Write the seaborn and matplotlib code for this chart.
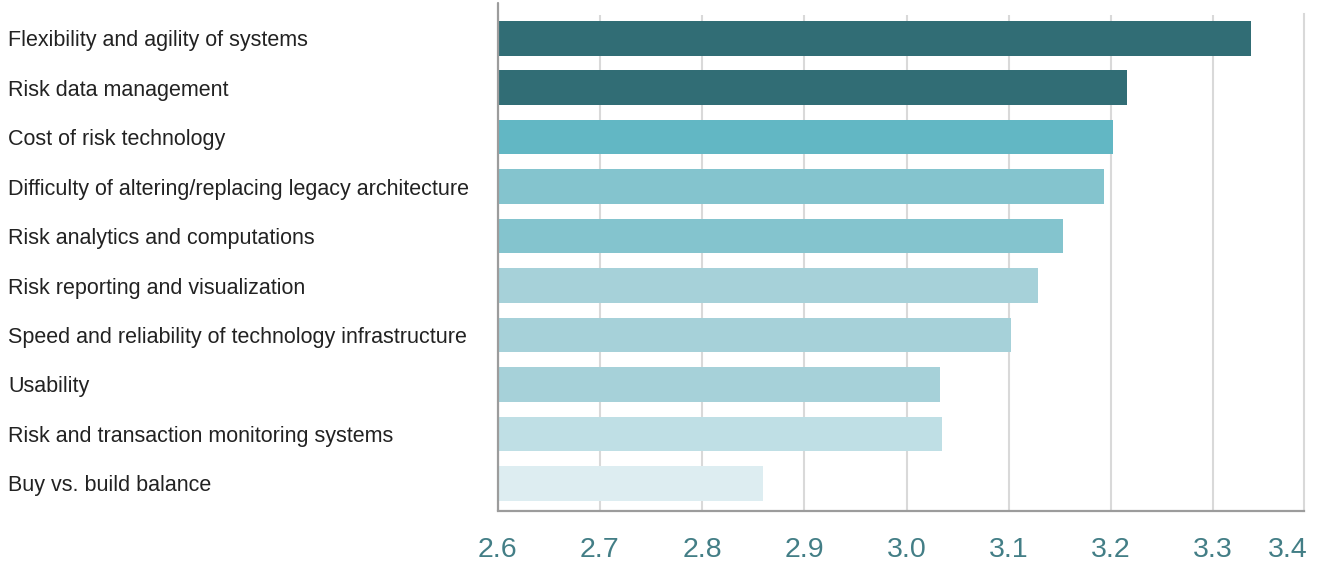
import matplotlib
matplotlib.use("Agg")
import matplotlib.pyplot as plt
import matplotlib.transforms as mtransforms
import seaborn as sns
import pandas as pd

categories = [
    "Flexibility and agility of systems",
    "Risk data management",
    "Cost of risk technology",
    "Difficulty of altering/replacing legacy architecture",
    "Risk analytics and computations",
    "Risk reporting and visualization",
    "Speed and reliability of technology infrastructure",
    "Usability",
    "Risk and transaction monitoring systems",
    "Buy vs. build balance",
]
scores = [3.337, 3.216, 3.202, 3.193, 3.153, 3.129, 3.102, 3.033, 3.035, 2.860]
bar_colors = [
    "#316D75", "#316D75", "#62B7C4", "#84C4CE", "#84C4CE",
    "#A6D1D9", "#A6D1D9", "#A6D1D9", "#BFDFE5", "#DDEDF1",
]
tick_values = [2.6, 2.7, 2.8, 2.9, 3.0, 3.1, 3.2, 3.3]
tick_labels = ["2.6", "2.7", "2.8", "2.9", "3.0", "3.1", "3.2", "3.3"]
end_label = "3.4"

df = pd.DataFrame({"category": categories, "score": scores})

sns.set_theme(style="white")
plt.rcParams["font.family"] = ["Liberation Sans", "DejaVu Sans"]

fig = plt.figure(figsize=(13.2, 5.62), dpi=100)
ax = fig.add_axes([0.377, 0.0907, 0.611, 0.8826])

sns.barplot(
    data=df, x="score", y="category", hue="category",
    palette=bar_colors, orient="h", width=0.70, legend=False,
    saturation=1, linewidth=0, ax=ax, zorder=3,
)

ax.set_xlim(2.6, 3.389)
ax.set_ylim(9.56, -0.47)
ax.set_xlabel("")
ax.set_ylabel("")

# vertical gridlines
ax.set_xticks(tick_values)
ax.set_xticklabels(tick_labels)
ax.xaxis.grid(True, color="#D9D9D9", linewidth=1.5, zorder=0)
ax.yaxis.grid(False)
ax.tick_params(axis="x", length=0, pad=19, labelsize=20.5, labelcolor="#437E86")
ax.tick_params(axis="y", length=0)
ax.set_yticklabels([])

# extra label at the right edge of the axis
end_txt = ax.text(1.004, 0.0, end_label, ha="right", va="top",
                  fontsize=20.5, color="#437E86")
end_txt.set_transform(
    ax.transAxes + mtransforms.ScaledTranslation(0, -19 / 72, fig.dpi_scale_trans))

ax.spines["top"].set_visible(False)
ax.spines["right"].set_color("#D9D9D9")
ax.spines["right"].set_linewidth(1.5)
ax.spines["right"].set_bounds(9.56, -0.49)
ax.spines["bottom"].set_color("#9C9C9C")
ax.spines["bottom"].set_linewidth(1.6)
ax.spines["left"].set_visible(False)
ax.plot([0, 0], [0, 1.024], transform=ax.transAxes, color="#9C9C9C",
        linewidth=1.6, clip_on=False, zorder=5)

# category labels, left aligned at the figure edge
label_tf = mtransforms.blended_transform_factory(fig.transFigure, ax.transData)
for i, name in enumerate(categories):
    ax.text(0.0062, i, name, transform=label_tf, ha="left",
            va="center_baseline", fontsize=15.5, color="#222222")

fig.savefig("out.png", dpi=100)
